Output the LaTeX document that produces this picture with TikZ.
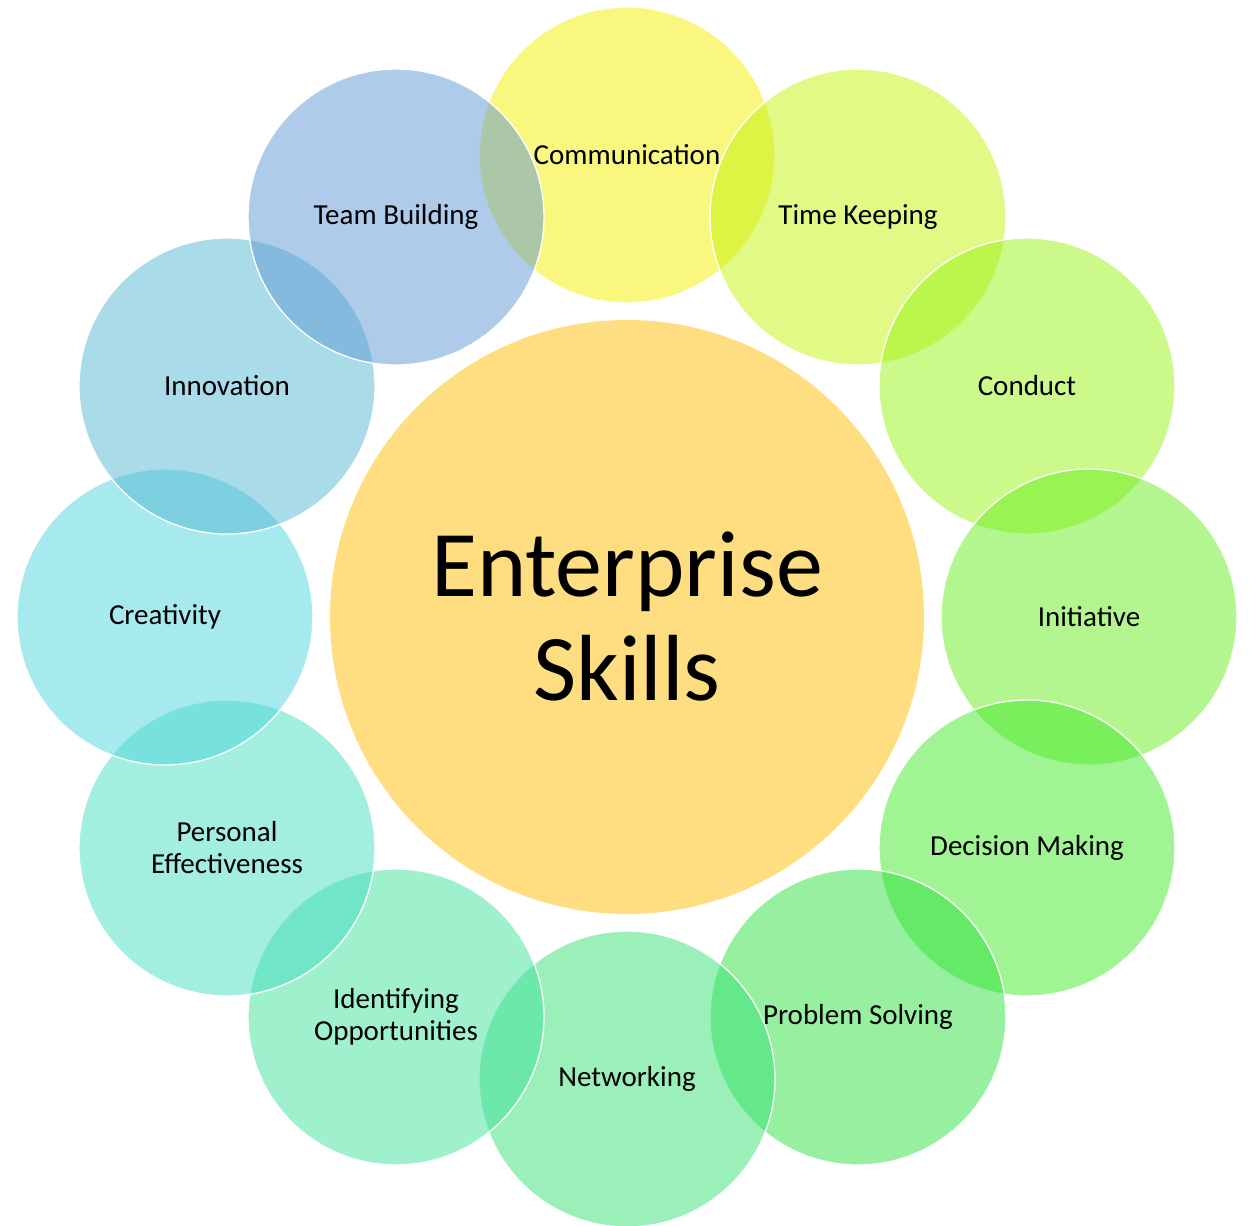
\documentclass[tikz,border=0pt]{standalone}
\usepackage{fontspec}
\setmainfont{Carlito}
\definecolor{cComm}{RGB}{245,239,0}
\definecolor{cTime}{RGB}{195,243,11}
\definecolor{cCond}{RGB}{151,243,21}
\definecolor{cInit}{RGB}{103,237,31}
\definecolor{cDeci}{RGB}{65,233,41}
\definecolor{cProb}{RGB}{45,225,63}
\definecolor{cNetw}{RGB}{55,225,117}
\definecolor{cIden}{RGB}{63,225,155}
\definecolor{cPers}{RGB}{69,221,191}
\definecolor{cCrea}{RGB}{77,213,221}
\definecolor{cInno}{RGB}{85,183,211}
\definecolor{cTeam}{RGB}{93,153,211}
\definecolor{cHub}{RGB}{254,222,128}
\begin{document}
\begin{tikzpicture}[x=1pt,y=-1pt,
  skill/.style={circle, minimum size=296pt, inner sep=0pt, draw=white, line width=1.3pt,
    fill opacity=0.5, draw opacity=1, text opacity=1, text=black, align=center,
    font=\fontsize{29}{32}\selectfont},
  hub/.style={circle, minimum size=594pt, inner sep=0pt, fill=cHub, text=black, align=center,
    font=\fontsize{94}{104}\selectfont}]
\useasboundingbox (0,0) rectangle (1253,1226);
\node[hub] (hub) at (627,617) {Enterprise\\Skills};
\node[skill, fill=cComm] (comm) at (627,155) {Communication};
\node[skill, fill=cTime] (time) at (858,217) {Time Keeping};
\node[skill, fill=cCond] (cond) at (1027,386) {Conduct};
\node[skill, fill=cInit] (init) at (1089,617) {Initiative};
\node[skill, fill=cDeci] (deci) at (1027,848) {Decision Making};
\node[skill, fill=cProb] (prob) at (858,1017) {Problem Solving};
\node[skill, fill=cNetw] (netw) at (627,1079) {Networking};
\node[skill, fill=cIden] (iden) at (396,1017) {Identifying\\Opportunities};
\node[skill, fill=cPers] (pers) at (227,848) {Personal\\Effectiveness};
\node[skill, fill=cCrea] (crea) at (165,617) {Creativity};
\node[skill, fill=cInno] (inno) at (227,386) {Innovation};
\node[skill, fill=cTeam] (team) at (396,217) {Team Building};
\end{tikzpicture}
\end{document}
